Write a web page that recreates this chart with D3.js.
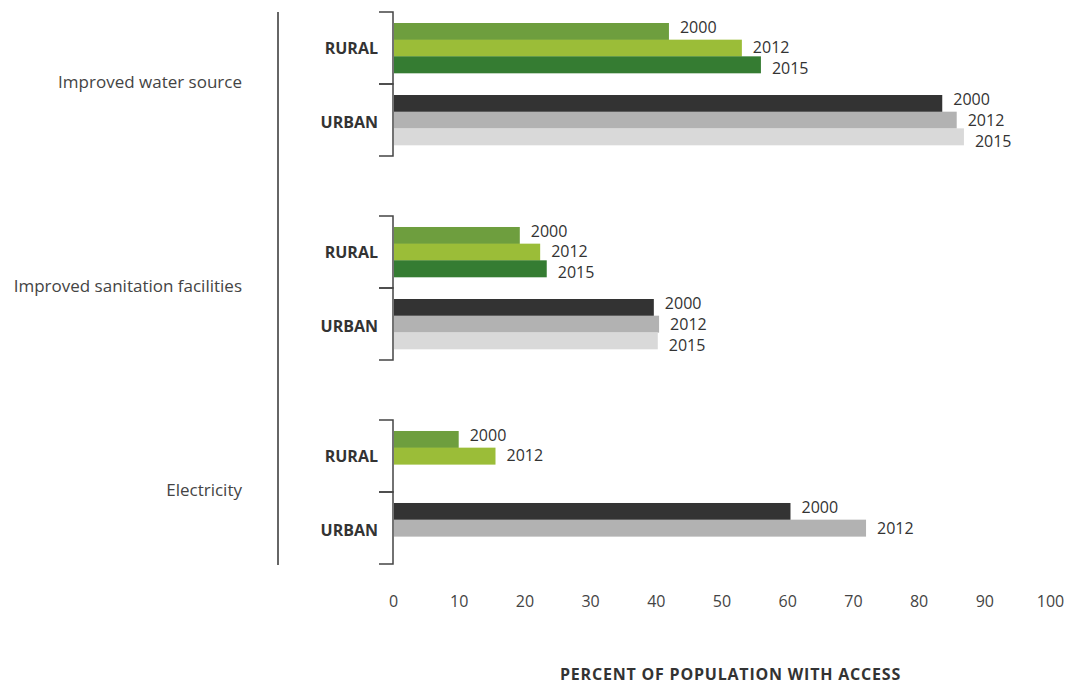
<!DOCTYPE html>
<head>
	<script src="https://d3js.org/d3.v7.min.js"></script>
	<style type="text/css">
		body { margin: 0; background: #fff; }
		svg { font-family: "Open Sans", Lato, sans-serif; }
		.tick line, .domain { display: none; }
	</style>
</head>
<body>
	<div id="chart"></div>
</body>
<script>

	var width = 1068;
	var height = 685;

	// data
	var categories = ["Improved water source", "Improved sanitation facilities", "Electricity"];
	var areas = ["RURAL", "URBAN"];
	var years = ["2000", "2012", "2015"];

	var rural2000 = [42.0, 19.3, 10.0];
	var rural2012 = [53.1, 22.4, 15.6];
	var rural2015 = [56.0, 23.4, null];
	var urban2000 = [83.6, 39.7, 60.5];
	var urban2012 = [85.8, 40.5, 72.0];
	var urban2015 = [86.9, 40.3, null];

	var xTicks = [0, 10, 20, 30, 40, 50, 60, 70, 80, 90, 100];

	var seriesValues = {
		RURAL: { "2000": rural2000, "2012": rural2012, "2015": rural2015 },
		URBAN: { "2000": urban2000, "2012": urban2012, "2015": urban2015 }
	};
	var colors = {
		RURAL: { "2000": "#6e9e3e", "2012": "#9bbd38", "2015": "#357c32" },
		URBAN: { "2000": "#333333", "2012": "#b2b2b2", "2015": "#d9d9d9" }
	};
	// small nudges so year labels don't sit exactly on the bar centre
	var labelDy = {
		RURAL: { "2000": -4, "2012": -0.5, "2015": 3.5 },
		URBAN: { "2000": -4, "2012": 0, "2015": 5 }
	};

	var rows = [];
	categories.forEach(function(c, i) {
		areas.forEach(function(a) {
			years.forEach(function(yr) {
				var v = seriesValues[a][yr][i];
				if (v != null) rows.push({ cat: c, area: a, year: yr, value: v });
			});
		});
	});

	var svg = d3.select("#chart").append("svg")
		.attr("width", width)
		.attr("height", height);

	var x = d3.scaleLinear()
		.domain([0, 100])
		.range([393, 1050]);

	var y0 = d3.scaleBand()
		.domain(categories)
		.range([12, 564])
		.paddingInner(0.294)
		.paddingOuter(0);

	var y1 = d3.scaleBand()
		.domain(areas)
		.range([0, y0.bandwidth()]);

	var y2 = d3.scaleBand()
		.domain(years)
		.range([0, y1.bandwidth()])
		.paddingInner(0)
		.paddingOuter(0.66);

	// left rule
	svg.append("line")
		.attr("x1", 278).attr("x2", 278)
		.attr("y1", y0.range()[0]).attr("y2", y0.range()[1] + 1)
		.attr("stroke", "#333").attr("stroke-width", 1.5);

	// category labels
	svg.selectAll(".cat")
		.data(categories)
		.enter().append("text")
		.attr("class", "cat")
		.attr("x", 242)
		.attr("y", d => y0(d) + y0.bandwidth() / 2 - 2)
		.attr("dy", "0.35em")
		.attr("text-anchor", "end")
		.attr("fill", "#444")
		.style("font-size", "17px")
		.text(d => d);

	var groups = svg.selectAll(".grp")
		.data(categories)
		.enter().append("g")
		.attr("class", "grp")
		.attr("transform", d => "translate(0," + y0(d) + ")");

	// brackets
	groups.selectAll(".bracket")
		.data(areas)
		.enter().append("path")
		.attr("class", "bracket")
		.attr("d", a => "M379," + y1(a) + "H393V" + (y1(a) + y1.bandwidth()) + "H379")
		.attr("fill", "none")
		.attr("stroke", "#444")
		.attr("stroke-width", 1.5);

	groups.selectAll(".area")
		.data(areas)
		.enter().append("text")
		.attr("class", "area")
		.attr("x", 378)
		.attr("y", a => y1(a) + y1.bandwidth() / 2 + (a == "URBAN" ? 2 : 0))
		.attr("dy", "0.35em")
		.attr("text-anchor", "end")
		.attr("fill", "#333")
		.style("font-size", "16px")
		.style("font-weight", "bold")
		.text(a => a);

	// bars
	var bars = svg.selectAll(".bar")
		.data(rows)
		.enter();

	bars.append("rect")
		.attr("class", "bar")
		.attr("x", x(0) + 1)
		.attr("y", d => y0(d.cat) + y1(d.area) + y2(d.year))
		.attr("width", d => x(d.value) - x(0) - 1)
		.attr("height", y2.bandwidth() + 0.3)
		.attr("fill", d => colors[d.area][d.year]);

	bars.append("text")
		.attr("x", d => x(d.value) + 11)
		.attr("y", d => y0(d.cat) + y1(d.area) + y2(d.year) + y2.bandwidth() / 2 + labelDy[d.area][d.year])
		.attr("dy", "0.35em")
		.attr("fill", "#333")
		.style("font-size", "16px")
		.text(d => d.year);

	// x axis (labels only)
	svg.append("g")
		.attr("transform", "translate(0,594)")
		.call(d3.axisBottom(x).tickValues(xTicks).tickSize(0).tickPadding(2))
		.selectAll("text")
		.attr("fill", "#444")
		.style("font-size", "16px")
		.style("font-family", "'Open Sans', sans-serif");

	svg.append("text")
		.attr("x", (x(0) + 1068) / 2)
		.attr("y", 680)
		.attr("text-anchor", "middle")
		.attr("fill", "#333")
		.style("font-size", "16px")
		.style("letter-spacing", "0.8px")
		.style("font-weight", "bold")
		.text("PERCENT OF POPULATION WITH ACCESS");

</script>
